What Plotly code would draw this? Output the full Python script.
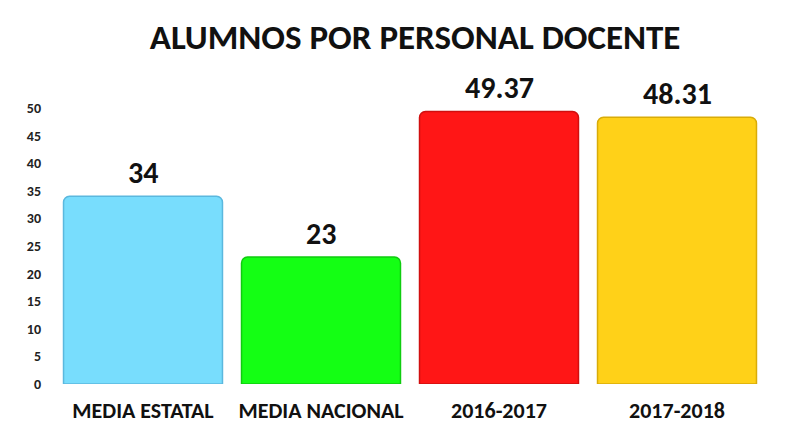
import plotly.graph_objects as go

categories = ["MEDIA ESTATAL", "MEDIA NACIONAL", "2016-2017", "2017-2018"]
values = [34, 23, 49.37, 48.31]
value_labels = ["34", "23", "49.37", "48.31"]
colors = ["#78DDFD", "#14FF14", "#FF1616", "#FFD118"]
edge_colors = ["#5BB8DE", "#0FCC0F", "#D00F0F", "#D9AC08"]
y_ticks = [0, 5, 10, 15, 20, 25, 30, 35, 40, 45, 50]

FONT = "Carlito, Lato, 'Open Sans', sans-serif"

fig = go.Figure()
fig.add_trace(go.Bar(
    x=categories,
    y=values,
    marker=dict(color=colors, line=dict(color=edge_colors, width=1.5), cornerradius=6),
    cliponaxis=False,
    hoverinfo="skip",
))

for c, v, t in zip(categories, values, value_labels):
    fig.add_annotation(
        x=c, y=v, text=f"<b>{t}</b>", showarrow=False,
        yanchor="bottom", yshift=3,
        font=dict(family=FONT, size=30, color="#111111"),
    )

fig.update_layout(
    width=806, height=423,
    margin=dict(l=54, r=40, t=108, b=39),
    paper_bgcolor="white", plot_bgcolor="white",
    bargap=0.107,
    showlegend=False,
    title=dict(
        text="<b>ALUMNOS POR PERSONAL DOCENTE</b>",
        x=0.515, xanchor="center", y=0.912, yanchor="middle",
        font=dict(family=FONT, size=35, color="#111111"),
    ),
    xaxis=dict(
        showline=False, showgrid=False, zeroline=False, automargin=False,
        tickvals=categories, ticktext=[f"<b>{c}</b>" for c in categories],
        tickfont=dict(family=FONT, size=22, color="#111111"),
        ticklabelstandoff=11,
    ),
    yaxis=dict(
        range=[0, 50], tickvals=y_ticks, ticktext=[f"<b>{v}</b>" for v in y_ticks],
        showgrid=False, zeroline=False, showline=False, automargin=False,
        tickfont=dict(family=FONT, size=14, color="#222222"),
        ticklabelstandoff=12,
    ),
)

fig.write_html(
    "out.html",
    config={"displayModeBar": False},
    post_script="document.body.style.margin='0';document.body.style.overflow='hidden';",
)
